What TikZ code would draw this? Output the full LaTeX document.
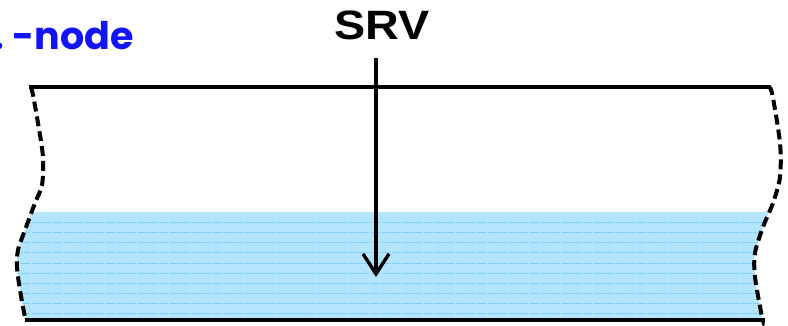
\documentclass[tikz,border=0pt]{standalone}
\usepackage{fontspec}
\setmainfont{Liberation Sans}
\newfontfamily\labelfont{Poppins}
\usetikzlibrary{arrows.meta}
\definecolor{water}{RGB}{180,229,255}
\definecolor{waterline}{RGB}{130,205,255}
\definecolor{nodeblue}{RGB}{20,20,250}
\tikzset{
  edge/.style={line width=4pt, dash pattern=on 10pt off 5pt, line cap=butt},
  bank/.style={line width=4.4pt},
  srvarrow/.style={line width=3.4pt, -{Straight Barb[length=20pt,width=26pt,line width=3.4pt]}},
  wline/.style={waterline, line width=1pt, dash pattern=on 9pt off 1.6pt}
}
\begin{document}
\begin{tikzpicture}[x=1pt,y=-1pt]
\useasboundingbox (0,0) rectangle (788,326);
% water
\begin{scope}
  \clip plot[smooth] coordinates {(31,87) (33,95) (38,123) (43,157) (42,185) (35,203) (25,230) (18,250) (17,267) (20,290) (25,317) (27,320)}
    -- plot[smooth] coordinates {(763,320) (762,317) (755,277) (755,253) (763,227) (773,203) (780,177) (780,143) (772,93) (768,87)} -- cycle;
  \fill[water] (0,212) rectangle (788,320);
  \foreach \yy in {223,233,...,313} \draw[wline] (0,\yy) -- (788,\yy);
\end{scope}
% banks
\draw[edge] plot[smooth] coordinates {(31,87) (33,95) (38,123) (43,157) (42,185) (35,203) (25,230) (18,250) (17,267) (20,290) (25,317) (27,320)};
\draw[edge] plot[smooth] coordinates {(768,87) (772,93) (780,143) (780,177) (773,203) (763,227) (755,253) (755,277) (762,317) (763,320)};
\coordinate (tl) at (29,87);
\coordinate (tr) at (770,87);
\coordinate (bl) at (25,320);
\coordinate (br) at (765,320);
\draw[bank] (tl) -- (tr);
\draw[bank] (bl) -- (br);
% labels
\node[anchor=base, font=\bfseries\fontsize{41}{41}\selectfont, xscale=1.14, inner sep=0] (srv) at (382,40) {SRV};
\node[anchor=base west, text=nodeblue, font=\labelfont\bfseries\fontsize{38}{38}\selectfont, inner sep=0] (lnode) at (-7,50) {.\hspace{9pt}-node};
\coordinate (astart) at (376,58);
\coordinate (aend) at (376,277);
\draw[srvarrow] (astart) -- (aend);
\end{tikzpicture}
\end{document}
